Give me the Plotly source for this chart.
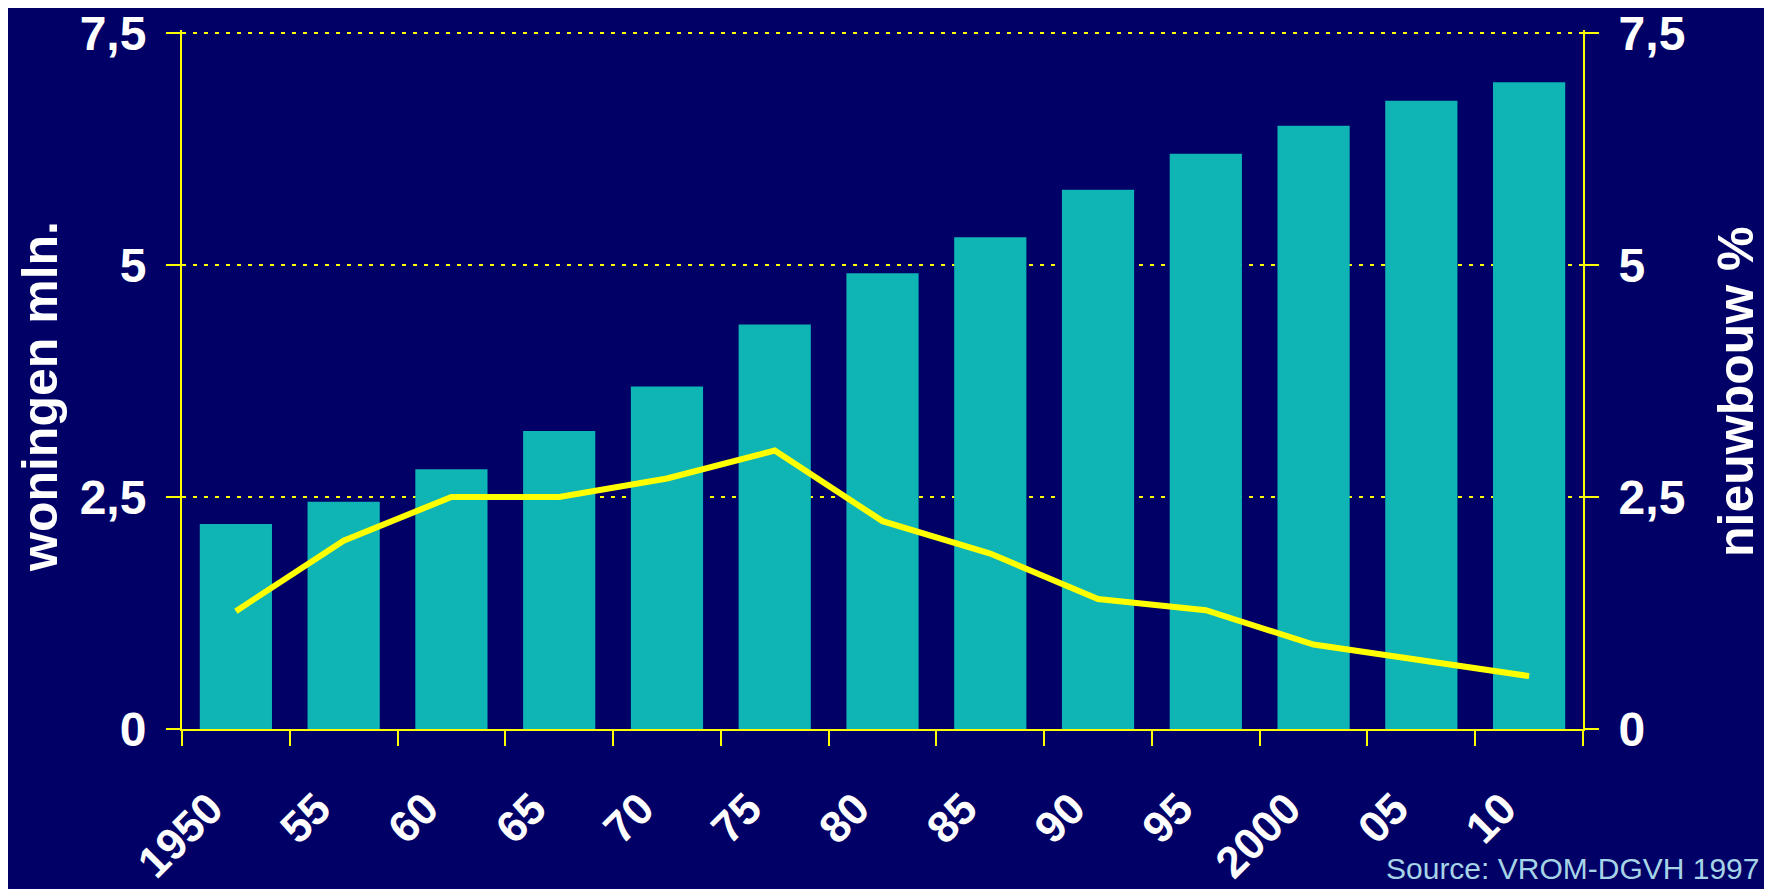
import plotly.graph_objects as go

# ---- data ----
years = ["1950", "55", "60", "65", "70", "75", "80", "85", "90", "95", "2000", "05", "10"]
woningen_mln = [2.21, 2.45, 2.80, 3.21, 3.69, 4.36, 4.91, 5.30, 5.81, 6.20, 6.50, 6.77, 6.97]
nieuwbouw_pct = [1.27, 2.03, 2.50, 2.50, 2.70, 3.00, 2.24, 1.89, 1.40, 1.28, 0.91, 0.74, 0.57]
y_tickvals = [0, 2.5, 5, 7.5]
y_ticktext = ["0", "2,5", "5", "7,5"]

BG = "#000066"
TEAL = "#0FB4B4"
YEL = "#FFFF00"
FONT = "Liberation Sans, Arial, sans-serif"

n = len(years)
xpos = [i + 0.5 for i in range(n)]
xticks = list(range(n + 1))
xticktext = years + [""]

# page offset of the plot div (default body margin)
OFF = 8
PLOT_L, PLOT_T, PLOT_W, PLOT_H = 182, 30, 1401, 699   # page px of plot area (7.5 line ~ 33)
YMAX = 7.5 * PLOT_H / (PLOT_H - 3)

fig = go.Figure()
fig.add_trace(go.Bar(x=xpos, y=woningen_mln, width=0.67, marker=dict(color=TEAL, line=dict(width=0)),
                     yaxis="y", showlegend=False))
fig.add_trace(go.Scatter(x=xpos, y=nieuwbouw_pct, mode="lines", line=dict(color=YEL, width=6),
                         yaxis="y2", showlegend=False, cliponaxis=False))

tickfont = dict(family=FONT, size=48, color="white", weight="bold")

W, H = 1772, 889
ml = PLOT_L - OFF
mt = PLOT_T - OFF
mr = W - ml - PLOT_W
mb = H - mt - PLOT_H

fig.update_layout(
    width=W, height=H,
    paper_bgcolor=BG, plot_bgcolor=BG,
    margin=dict(l=ml, r=mr, t=mt, b=mb, autoexpand=False),
    xaxis=dict(range=[0, n], tickmode="array", tickvals=xticks, ticktext=xticktext,
               tickangle=-45, tickfont=dict(family=FONT, size=44, color="white", weight="bold"),
               showgrid=False, zeroline=False, showline=True, linecolor=YEL, linewidth=2,
               ticks="outside", ticklen=15, tickwidth=2, tickcolor=YEL, automargin=False,
               ticklabelshift=28, ticklabelstandoff=19, ticklabeloverflow="allow"),
    yaxis=dict(range=[0, YMAX], tickmode="array", tickvals=y_tickvals, ticktext=y_ticktext,
               tickfont=tickfont, showgrid=True, gridcolor=YEL, gridwidth=2, griddash="4px,7px",
               zeroline=False, showline=True, linecolor=YEL, linewidth=2, automargin=False,
               ticks="outside", ticklen=14, tickwidth=2, tickcolor=YEL, ticklabelstandoff=10,
               ticklabeloverflow="allow"),
    yaxis2=dict(range=[0, YMAX], overlaying="y", side="right", tickmode="array",
                tickvals=y_tickvals, ticktext=y_ticktext, tickfont=tickfont, automargin=False,
                showgrid=False, zeroline=False, showline=True, linecolor=YEL, linewidth=2,
                ticks="outside", ticklen=14, tickwidth=2, tickcolor=YEL, ticklabelstandoff=10,
                ticklabeloverflow="allow"),
    bargap=0.33,
)

def px_x(px):
    return (px - PLOT_L) / PLOT_W

def px_y(py):
    return (PLOT_T + PLOT_H - py) / PLOT_H

fig.add_annotation(text="woningen mln.", textangle=-90, xref="paper", yref="paper",
                   x=px_x(40), y=px_y(397), xanchor="center", yanchor="middle", showarrow=False,
                   borderpad=0, font=dict(family=FONT, size=50, color="white", weight="bold"))
fig.add_annotation(text="nieuwbouw %", textangle=-90, xref="paper", yref="paper",
                   x=px_x(1736), y=px_y(392), xanchor="center", yanchor="middle", showarrow=False,
                   font=dict(family=FONT, size=50, color="white", weight="bold"))
fig.add_annotation(text="Source: VROM-DGVH 1997", xref="paper", yref="paper",
                   x=px_x(1384), y=px_y(887), xanchor="left", yanchor="bottom", showarrow=False,
                   font=dict(family=FONT, size=30, color="#A6D4E6"))

fig.write_html("out.html")
